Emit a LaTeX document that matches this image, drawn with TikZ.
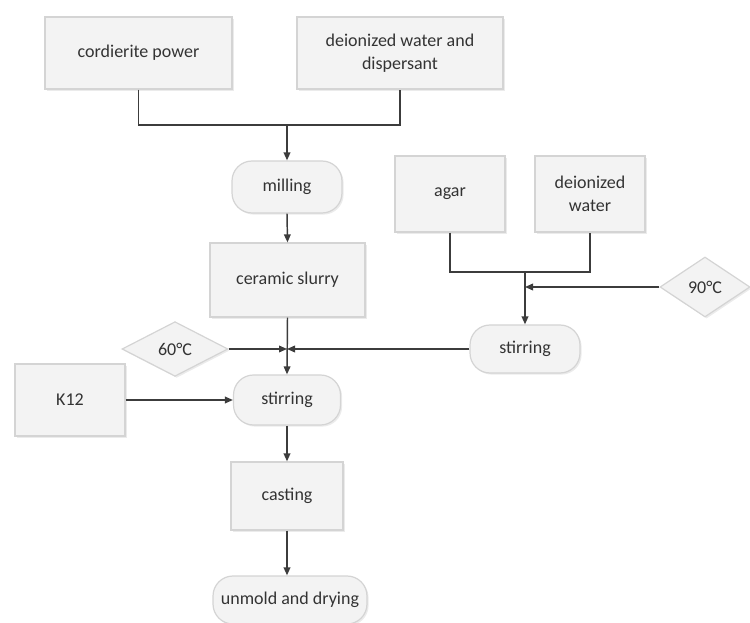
\documentclass[tikz,border=0pt]{standalone}
\usepackage{fontspec}
\setmainfont{Carlito}
\usetikzlibrary{shapes.geometric,arrows.meta,shadows}
\definecolor{boxfill}{HTML}{F3F3F3}
\definecolor{boxline}{HTML}{D4D4D4}
\definecolor{linecol}{HTML}{3C3C3C}
\definecolor{txtcol}{HTML}{333333}
\begin{document}
\begin{tikzpicture}[x=0.75pt,y=-0.75pt,
  every node/.style={font=\fontsize{13.5}{17}\selectfont, text=txtcol, align=center},
  base/.style={draw=boxline, line width=0.9pt, fill=boxfill,
    drop shadow={shadow xshift=1.2pt, shadow yshift=-1.2pt, fill=gray!35, opacity=0.45}},
  procbox/.style={base, rectangle, inner sep=2pt},
  termbox/.style={base, rectangle, rounded corners=15pt, inner sep=2pt},
  condbox/.style={base, diamond, inner sep=0pt},
  conn/.style={draw=linecol, line width=1.1pt},
  arr/.style={conn, -{Triangle[length=6pt,width=5pt]}}
  ]
\useasboundingbox (0,0) rectangle (750,623);

\node[procbox, minimum width=140.25pt, minimum height=54pt] (cord) at (138.5,53) {cordierite power};
\node[procbox, minimum width=154.5pt, minimum height=54pt] (disp) at (400,53) {deionized water and\\dispersant};
\node[termbox, minimum width=82.5pt, minimum height=39pt] (mill) at (287,187) {milling};
\node[procbox, minimum width=116.25pt, minimum height=55.5pt] (slurry) at (287.5,280) {ceramic slurry};
\node[procbox, minimum width=82.5pt, minimum height=57pt] (agar) at (450,194) {agar};
\node[procbox, minimum width=82.5pt, minimum height=57pt] (dw) at (590,194) {deionized\\water};
\node[condbox, minimum width=67.5pt, minimum height=45pt] (d90) at (705,287) {90°C};
\node[termbox, minimum width=82.5pt, minimum height=36pt] (stir2) at (525,349) {stirring};
\node[condbox, minimum width=79.5pt, minimum height=41pt] (d60) at (175,349) {60°C};
\node[termbox, minimum width=80.25pt, minimum height=37.5pt] (stir1) at (287,400) {stirring};
\node[procbox, minimum width=82.5pt, minimum height=54pt] (k12) at (70,400) {K12};
\node[procbox, minimum width=84pt, minimum height=51pt] (cast) at (287,496) {casting};
\node[termbox, minimum width=115.5pt, minimum height=36pt] (unmold) at (290,600) {unmold and drying};

\coordinate (j1) at (287,125);
\coordinate (j2) at (525,272);
\coordinate (j3) at (525,287);
\coordinate (j4) at (287,349);

\draw[conn] (cord.south) |- (j1) -| (disp.south);
\draw[arr] (j1) -- (mill.north);
\draw[arr] (mill.south) -- (slurry.north);
\draw[arr] (slurry.south) -- (stir1.north);
\draw[conn] (agar.south) |- (j2) -| (dw.south);
\draw[arr] (j2) -- (stir2.north);
\draw[arr] (d90.west) -- (j3);
\draw[arr] (stir2.west) -- (j4);
\draw[arr] (d60.east) -- (j4);
\draw[arr] (k12.east) -- (stir1.west);
\draw[arr] (stir1.south) -- (cast.north);
\draw[arr] (cast.south) -- (cast.south |- unmold.north);
\end{tikzpicture}
\end{document}
